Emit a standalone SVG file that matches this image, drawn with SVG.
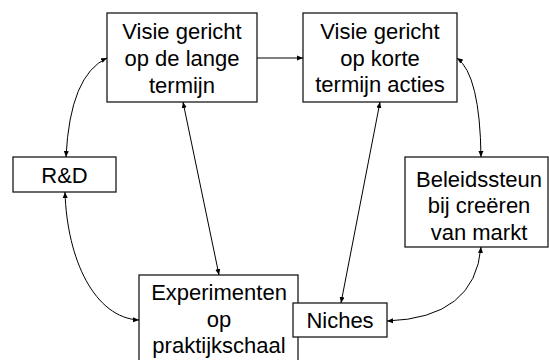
<svg xmlns="http://www.w3.org/2000/svg" width="549" height="360" viewBox="0 0 549 360">
<style>
.box{fill:#fff;stroke:#1a1a1a;stroke-width:1.3}
.t{font-family:"Liberation Sans",Arial,sans-serif;font-size:22px;fill:#000;text-anchor:middle}
.c{fill:none;stroke:#000;stroke-width:1}
</style>
<defs>
<marker id="ah" markerUnits="userSpaceOnUse" markerWidth="7" markerHeight="6" refX="6" refY="3" orient="auto-start-reverse">
<path d="M0,0.5 L6,3 L0,5.5 z" fill="#000"/>
</marker>
</defs>
<rect width="549" height="360" fill="#fff"/>
<g id="n-lange">
<rect class="box" x="107" y="13" width="150" height="89"/>
<text class="t" x="182" y="39">Visie gericht</text>
<text class="t" x="182" y="66">op de lange</text>
<text class="t" x="182" y="93">termijn</text>
</g>
<g id="n-korte">
<rect class="box" x="303" y="13" width="154" height="89"/>
<text class="t" x="380" y="39">Visie gericht</text>
<text class="t" x="380" y="66">op korte</text>
<text class="t" x="380" y="92">termijn acties</text>
</g>
<g id="n-rd">
<rect class="box" x="13" y="157" width="103" height="35"/>
<text class="t" x="64.5" y="183">R&amp;D</text>
</g>
<g id="n-beleid">
<rect class="box" x="405" y="157" width="143" height="90"/>
<text class="t" x="479" y="187">Beleidssteun</text>
<text class="t" x="479" y="213">bij creëren</text>
<text class="t" x="479" y="240">van markt</text>
</g>
<g id="n-exp">
<rect class="box" x="139" y="275" width="159" height="95"/>
<text class="t" x="219" y="300">Experimenten</text>
<text class="t" x="219" y="327">op</text>
<text class="t" x="219" y="353">praktijkschaal</text>
</g>
<g id="n-niches">
<rect class="box" x="293" y="303" width="94" height="34"/>
<text class="t" x="340" y="328">Niches</text>
</g>
<g id="connectors">
<path class="c" d="M257,58 L303,58" marker-end="url(#ah)"/>
<path class="c" d="M107,58 Q70,75 66,157" marker-start="url(#ah)" marker-end="url(#ah)"/>
<path class="c" d="M65,192 C67,260 95,318 139,320" marker-start="url(#ah)" marker-end="url(#ah)"/>
<path class="c" d="M183,102 L219,275" marker-start="url(#ah)" marker-end="url(#ah)"/>
<path class="c" d="M380,102 L341,303" marker-start="url(#ah)" marker-end="url(#ah)"/>
<path class="c" d="M457,58 Q480,75 481,157" marker-start="url(#ah)" marker-end="url(#ah)"/>
<path class="c" d="M481,247 Q475,318 387,321" marker-start="url(#ah)" marker-end="url(#ah)"/>
</g>
</svg>
